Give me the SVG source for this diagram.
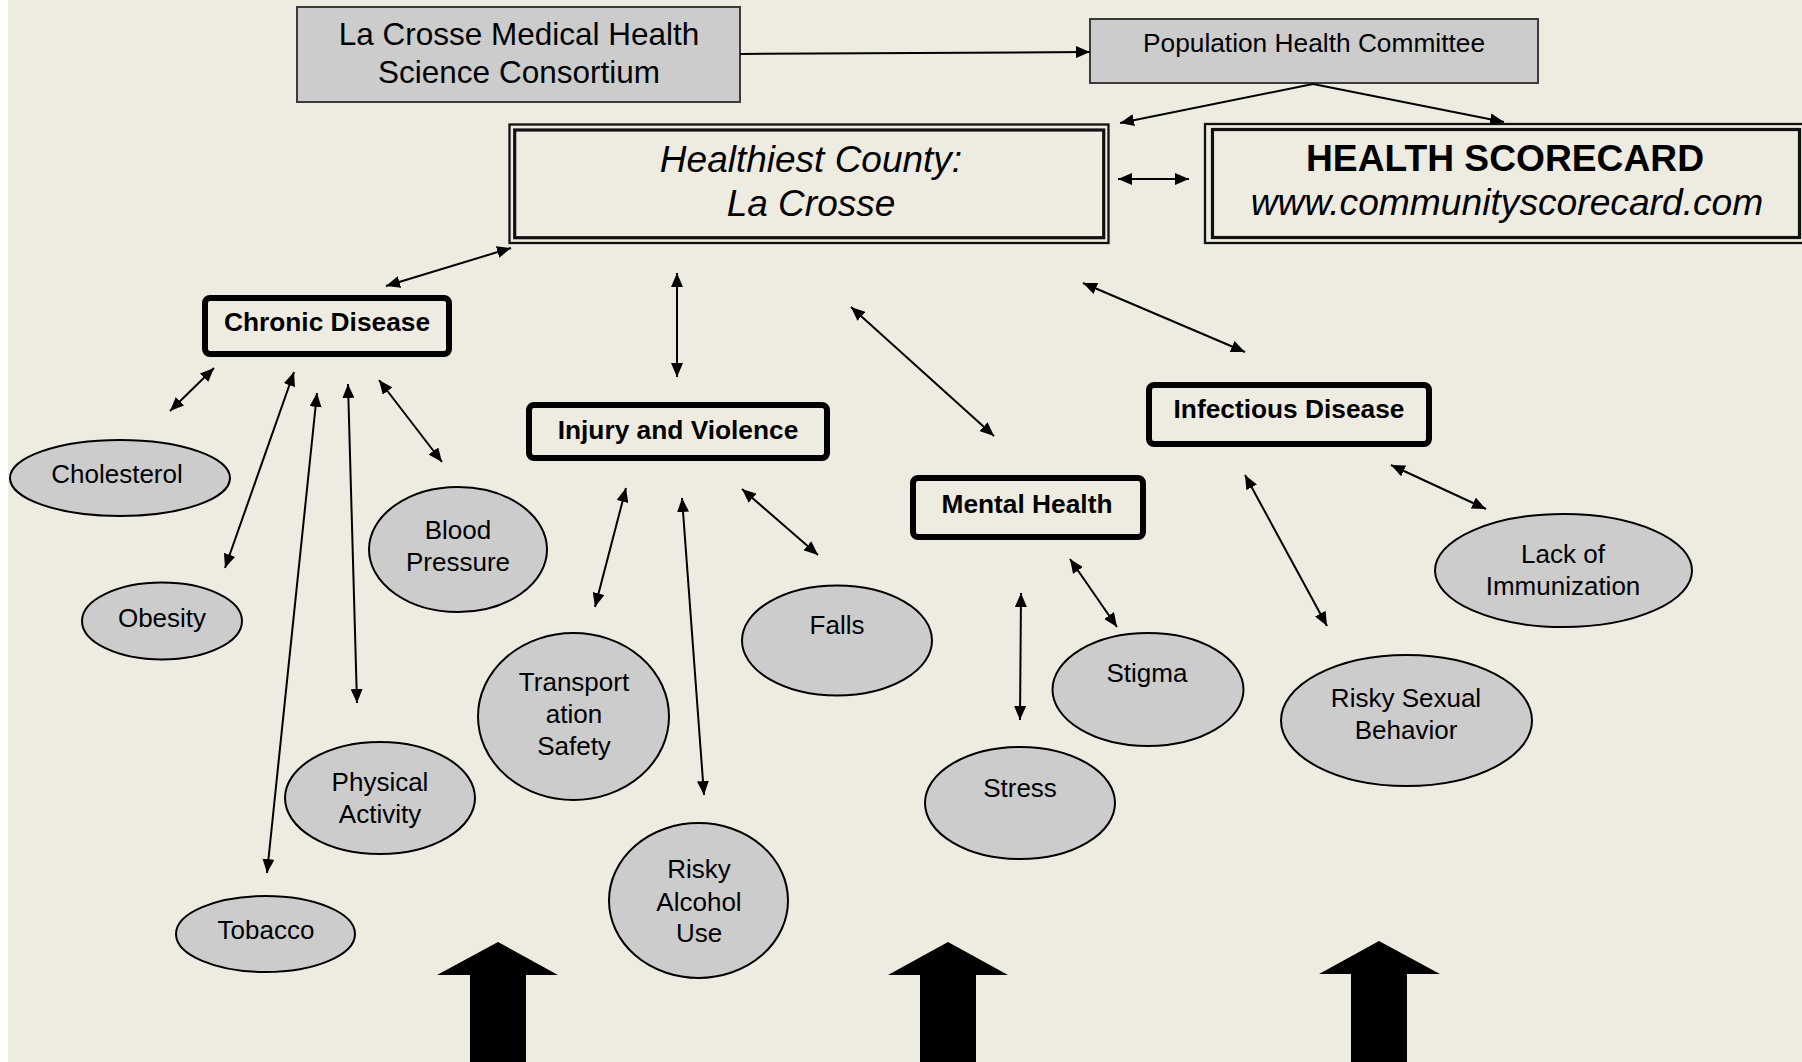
<svg xmlns="http://www.w3.org/2000/svg" width="1802" height="1062" viewBox="0 0 1802 1062">
<style>
.bg{fill:#EEECE1}
.gbox{fill:#CCCCCC;stroke:#3a3a3a;stroke-width:2}
.dbl{fill:none;stroke:#111;}
.cat{fill:#ffffff;fill-opacity:0;stroke:#000;stroke-width:6}
.ell{fill:#CCCCCC;stroke:#000;stroke-width:2}
.t{font-family:"Liberation Sans",Arial,sans-serif;fill:#000;text-anchor:middle}
.et{font-size:26px}
.bt{font-size:26.3px;font-weight:bold}
.con line{stroke:#000;stroke-width:2;fill:none}
.two{marker-start:url(#ah);marker-end:url(#ah)}
.one{marker-end:url(#ah)}
.big{fill:#000}
</style>
<defs>
<marker id="ah" viewBox="0 0 14 12" refX="14" refY="6" markerWidth="14" markerHeight="12" markerUnits="userSpaceOnUse" orient="auto-start-reverse">
<path d="M0,0L14,6L0,12z" fill="#000"/>
</marker>
</defs>
<rect class="bg" x="0" y="0" width="1802" height="1062"/>
<rect x="0" y="0" width="8" height="1062" fill="#ffffff"/>

<g id="lacrosse-consortium">
<rect class="gbox" x="297" y="7" width="443" height="95"/>
<text class="t" x="519" y="45" font-size="31.5">La Crosse Medical Health</text>
<text class="t" x="519" y="83" font-size="31.5">Science Consortium</text>
</g>

<g id="population-health-committee">
<rect class="gbox" x="1090" y="19" width="448" height="64"/>
<text class="t" x="1314" y="52" font-size="26.3">Population Health Committee</text>
</g>

<g id="healthiest-county">
<rect class="dbl" x="509.5" y="124.5" width="599" height="118.5" stroke-width="2.3"/>
<rect class="dbl" x="514.7" y="130" width="589" height="107.7" stroke-width="3.2"/>
<text class="t" x="811" y="172" font-size="37" font-style="italic">Healthiest County:</text>
<text class="t" x="811" y="216" font-size="37" font-style="italic">La Crosse</text>
</g>

<g id="health-scorecard">
<rect class="dbl" x="1205" y="124" width="610" height="119" stroke-width="2.3"/>
<rect class="dbl" x="1212.5" y="129.5" width="587" height="108" stroke-width="3.2"/>
<text class="t" x="1505" y="171" font-size="37.2" font-weight="bold">HEALTH SCORECARD</text>
<text class="t" x="1507" y="215" font-size="37.2" font-style="italic">www.communityscorecard.com</text>
</g>

<g id="chronic-disease">
<rect class="cat" x="205" y="298" width="244" height="56" rx="5"/>
<text class="t bt" x="327" y="331">Chronic Disease</text>
</g>

<g id="injury-violence">
<rect class="cat" x="529" y="405" width="298" height="53" rx="5"/>
<text class="t bt" x="678" y="439">Injury and Violence</text>
</g>

<g id="mental-health">
<rect class="cat" x="913" y="478" width="230" height="59" rx="5"/>
<text class="t bt" x="1027" y="513">Mental Health</text>
</g>

<g id="infectious-disease">
<rect class="cat" x="1149" y="385" width="280" height="59" rx="5"/>
<text class="t bt" x="1289" y="418">Infectious Disease</text>
</g>

<g id="cholesterol">
<ellipse class="ell" cx="120" cy="478" rx="110" ry="38"/>
<text class="t et" x="117" y="483">Cholesterol</text>
</g>
<g id="obesity">
<ellipse class="ell" cx="162" cy="621" rx="80" ry="38.5"/>
<text class="t et" x="162" y="627">Obesity</text>
</g>
<g id="blood-pressure">
<ellipse class="ell" cx="458" cy="549.5" rx="89" ry="62.5"/>
<text class="t et" x="458" y="539">Blood</text>
<text class="t et" x="458" y="571">Pressure</text>
</g>
<g id="physical-activity">
<ellipse class="ell" cx="380" cy="798" rx="95" ry="56"/>
<text class="t et" x="380" y="791">Physical</text>
<text class="t et" x="380" y="823">Activity</text>
</g>
<g id="tobacco">
<ellipse class="ell" cx="265.5" cy="934" rx="89.5" ry="38"/>
<text class="t et" x="266" y="939">Tobacco</text>
</g>
<g id="transportation-safety">
<ellipse class="ell" cx="573.5" cy="716.5" rx="95.5" ry="83.5"/>
<text class="t et" x="574" y="691">Transport</text>
<text class="t et" x="574" y="723">ation</text>
<text class="t et" x="574" y="755">Safety</text>
</g>
<g id="risky-alcohol-use">
<ellipse class="ell" cx="698.5" cy="900.5" rx="89.5" ry="77.5"/>
<text class="t et" x="699" y="878">Risky</text>
<text class="t et" x="699" y="911">Alcohol</text>
<text class="t et" x="699" y="942">Use</text>
</g>
<g id="falls">
<ellipse class="ell" cx="837" cy="640.5" rx="95" ry="55"/>
<text class="t et" x="837" y="634">Falls</text>
</g>
<g id="stress">
<ellipse class="ell" cx="1020" cy="803" rx="95" ry="56"/>
<text class="t et" x="1020" y="797">Stress</text>
</g>
<g id="stigma">
<ellipse class="ell" cx="1148" cy="689.5" rx="95.5" ry="56.5"/>
<text class="t et" x="1147" y="682">Stigma</text>
</g>
<g id="risky-sexual-behavior">
<ellipse class="ell" cx="1406.5" cy="720.5" rx="125.5" ry="65.5"/>
<text class="t et" x="1406" y="707">Risky Sexual</text>
<text class="t et" x="1406" y="739">Behavior</text>
</g>
<g id="lack-of-immunization">
<ellipse class="ell" cx="1563.5" cy="570.5" rx="128.5" ry="56.5"/>
<text class="t et" x="1563" y="563">Lack of</text>
<text class="t et" x="1563" y="595">Immunization</text>
</g>

<g id="connectors" class="con">
<line class="one" x1="740" y1="54" x2="1090" y2="52"/>
<line class="one" x1="1313" y1="84" x2="1120" y2="123"/>
<line class="one" x1="1313" y1="84" x2="1504" y2="122"/>
<line class="two" x1="1118" y1="179" x2="1189" y2="179"/>
<line class="two" x1="511" y1="248" x2="386" y2="286"/>
<line class="two" x1="677" y1="273" x2="677" y2="377"/>
<line class="two" x1="851" y1="307" x2="994" y2="436"/>
<line class="two" x1="1083" y1="283" x2="1245" y2="352"/>
<line class="two" x1="214" y1="368" x2="170" y2="411"/>
<line class="two" x1="294" y1="372" x2="225" y2="568"/>
<line class="two" x1="317" y1="393" x2="267" y2="873"/>
<line class="two" x1="348" y1="384" x2="357" y2="703"/>
<line class="two" x1="379" y1="380" x2="442" y2="462"/>
<line class="two" x1="626" y1="488" x2="595" y2="607"/>
<line class="two" x1="682" y1="498" x2="704" y2="795"/>
<line class="two" x1="742" y1="489" x2="818" y2="555"/>
<line class="two" x1="1021" y1="593" x2="1020" y2="720"/>
<line class="two" x1="1070" y1="559" x2="1117" y2="627"/>
<line class="two" x1="1245" y1="475" x2="1327" y2="626"/>
<line class="two" x1="1391" y1="465" x2="1486" y2="509"/>
</g>

<g id="block-arrows">
<polygon class="big" points="498,942 558,975 526,975 526,1062 470,1062 470,975 437,975"/>
<polygon class="big" points="948,942 1008,975 976,975 976,1062 920,1062 920,975 888,975"/>
<polygon class="big" points="1379,941 1440,974 1407,974 1407,1062 1351,1062 1351,974 1319,974"/>
</g>
</svg>
